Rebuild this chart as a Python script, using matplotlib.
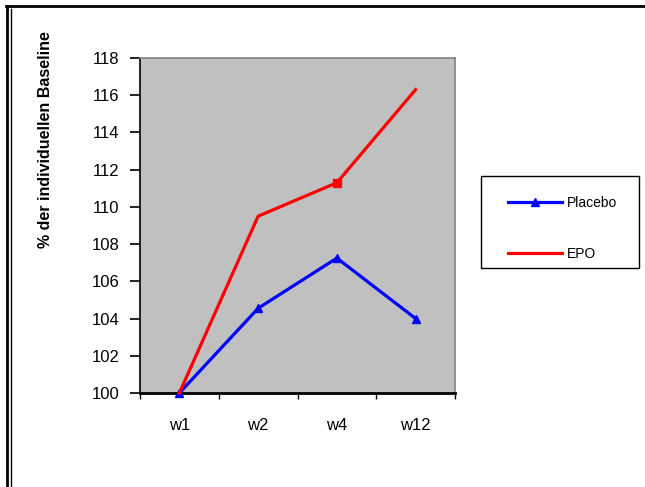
import matplotlib
matplotlib.use("Agg")
import matplotlib.pyplot as plt
from matplotlib.lines import Line2D
from matplotlib.patches import Rectangle

categories = ["w1", "w2", "w4", "w12"]
placebo = [100.0, 104.55, 107.25, 104.0]
epo = [100.0, 109.5, 111.3, 116.3]
yticks = [100, 102, 104, 106, 108, 110, 112, 114, 116, 118]

plt.rcParams['font.family'] = ['Liberation Sans', 'DejaVu Sans']

W, H = 645, 487
fig = plt.figure(figsize=(W / 100, H / 100), dpi=100)
fig.patch.set_facecolor('white')

# plot area in pixel coords
x0, x1, y0, y1 = 140, 455, 58, 393
ax = fig.add_axes([x0 / W, 1 - y1 / H, (x1 - x0) / W, (y1 - y0) / H])
ax.set_facecolor('#C0C0C0')

x = list(range(len(categories)))
ax.plot(x, placebo, color='#0000FF', lw=2.3, marker='^', ms=5.5, label='Placebo', zorder=3, clip_on=False)
ax.plot(x, epo, color='#FF0000', lw=2.3, label='EPO', zorder=3, clip_on=False)
ax.plot([x[2]], [epo[2]], color='#FF0000', marker='s', ms=6, ls='none', zorder=4)

ax.set_xlim(-0.5, len(categories) - 0.5)
ax.set_ylim(100, 118)
ax.set_yticks(yticks)
ax.set_yticklabels([str(v) for v in yticks], fontsize=12)
ax.set_xticks(x)
ax.set_xticklabels(categories, fontsize=12)
ax.set_xticks([i - 0.5 for i in range(len(categories) + 1)], minor=True)
ax.tick_params(axis='x', which='major', length=0, pad=18)
ax.tick_params(axis='x', which='minor', length=4, width=1, direction='out')
ax.tick_params(axis='y', which='major', length=7, width=1.2, direction='out', pad=8)

for side in ['top', 'right']:
    ax.spines[side].set_color('#808080')
    ax.spines[side].set_linewidth(1.2)
ax.spines['left'].set_color('black')
ax.spines['left'].set_linewidth(1.2)
ax.spines['bottom'].set_color('black')
ax.spines['bottom'].set_linewidth(2)

fig.text(46 / W, 1 - 140 / H, '% der individuellen Baseline', rotation=90,
         ha='center', va='center', fontsize=11.5, fontweight='bold')

# legend box
fig.add_artist(Rectangle((481 / W, 1 - 268 / H), (639 - 481) / W, (268 - 176) / H,
                         transform=fig.transFigure, facecolor='white',
                         edgecolor='black', lw=1))
leg = fig.legend(loc='upper left', bbox_to_anchor=(508 / W, 1 - 196 / H),
                 bbox_transform=fig.transFigure, frameon=False,
                 fontsize=10, handlelength=3.9, labelspacing=2.67,
                 borderpad=0, handletextpad=0.35, borderaxespad=0)

# outer frame lines
fig.add_artist(Line2D([7 / W, 7 / W], [0, 1 - 6 / H], transform=fig.transFigure, color='black', lw=2))
fig.add_artist(Line2D([11 / W, 11 / W], [0, 1 - 9 / H], transform=fig.transFigure, color='black', lw=1))
fig.add_artist(Line2D([6 / W, 1], [1 - 6 / H, 1 - 6 / H], transform=fig.transFigure, color='black', lw=2))

fig.savefig('out.png', dpi=100)
